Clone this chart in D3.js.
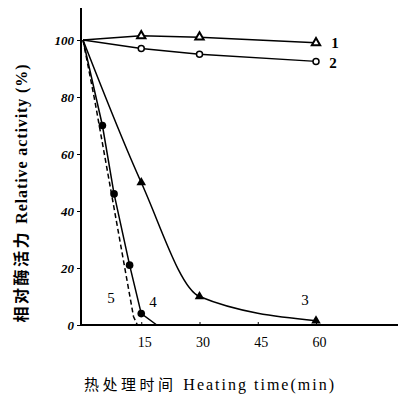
<!DOCTYPE html>
<html>
<head>
<meta charset="utf-8">
<script src="https://cdn.jsdelivr.net/npm/d3@7"></script>
<style>
  body { margin: 0; background: #fff; }
  svg { display: block; }
</style>
</head>
<body>
<svg id="chart" width="399" height="399"></svg>
<script>
// time (min) and relative activity (%) for each curve
const t1 = [0, 15, 30, 60];
const v1 = [100, 101.5, 101, 99];
const t2 = [0, 15, 30, 60];
const v2 = [100, 97, 95, 92.5];
const t3 = [0, 15, 30, 60];
const v3 = [100, 50, 10, 1.5];
const t4 = [0, 5, 8, 12, 15, 19];
const v4 = [100, 70, 46, 21, 4, 0];
const t5 = [0, 3, 13, 14];
const v5 = [100, 79, 3, 0];

const xTicks = [15, 30, 45, 60];
const yTicks = [0, 20, 40, 60, 80, 100];
const curveNames = ["1", "2", "3", "4", "5"];

const svg = d3.select("#chart");
const serif = "'Liberation Serif', 'DejaVu Serif', serif";

const x = d3.scaleLinear().domain([0, 60]).range([83, 316]);
const y = d3.scaleLinear().domain([0, 100]).range([325, 40]);

// axes
const yAxis = svg.append("g")
    .attr("transform", "translate(81,0)")
    .call(d3.axisLeft(y).tickValues(yTicks).tickSize(4).tickPadding(3).tickSizeOuter(0));
yAxis.select(".domain").remove();
yAxis.append("line")
    .attr("x1", 0).attr("x2", 0)
    .attr("y1", y(0) + 1).attr("y2", 8)
    .attr("stroke", "#000").attr("stroke-width", 2);
yAxis.selectAll("text")
    .attr("font-family", serif).attr("font-size", 13)
    .attr("font-style", "italic").attr("font-weight", "bold").attr("fill", "#000");

const xAxis = svg.append("g")
    .attr("transform", `translate(0,${y(0)})`)
    .call(d3.axisBottom(x).tickValues(xTicks).tickSize(-3).tickPadding(12).tickSizeOuter(0));
xAxis.select(".domain").remove();
xAxis.append("line")
    .attr("x1", 80).attr("x2", 398)
    .attr("y1", 0).attr("y2", 0)
    .attr("stroke", "#000").attr("stroke-width", 2);
xAxis.selectAll("text")
    .attr("dx", 3)
    .attr("font-family", serif).attr("font-size", 14).attr("fill", "#000");

// lines
const line = d3.line().x(d => x(d[0])).y(d => y(d[1]));
const zip = (a, b) => a.map((d, i) => [d, b[i]]);

const series = [
    {pts: zip(t1, v1), curve: d3.curveLinear, dash: null},
    {pts: zip(t2, v2), curve: d3.curveLinear, dash: null},
    {pts: zip(t3, v3), curve: d3.curveMonotoneX, dash: null},
    {pts: zip(t4, v4), curve: d3.curveLinear, dash: null},
    {pts: zip(t5, v5), curve: d3.curveLinear, dash: "5,3"}
];

series.forEach(s => {
    svg.append("path")
        .attr("d", line.curve(s.curve)(s.pts))
        .attr("fill", "none")
        .attr("stroke", "#000")
        .attr("stroke-width", 1.5)
        .attr("stroke-dasharray", s.dash);
});

// markers
const tri = d3.symbol().type(d3.symbolTriangle).size(30);
svg.selectAll(".m1").data(zip(t1, v1).slice(1)).enter().append("path")
    .attr("transform", d => `translate(${x(d[0])},${y(d[1])})`)
    .attr("d", tri).attr("fill", "#fff").attr("stroke", "#000").attr("stroke-width", 2);
svg.selectAll(".m2").data(zip(t2, v2).slice(1)).enter().append("circle")
    .attr("cx", d => x(d[0])).attr("cy", d => y(d[1])).attr("r", 3)
    .attr("fill", "#fff").attr("stroke", "#000").attr("stroke-width", 1.5);
svg.selectAll(".m3").data(zip(t3, v3).slice(1)).enter().append("path")
    .attr("transform", d => `translate(${x(d[0])},${y(d[1])})`)
    .attr("d", d3.symbol().type(d3.symbolTriangle).size(40)).attr("fill", "#000");
svg.selectAll(".m4").data(zip(t4, v4).slice(1, 5)).enter().append("circle")
    .attr("cx", d => x(d[0])).attr("cy", d => y(d[1])).attr("r", 3.8)
    .attr("fill", "#000");

// curve labels
const labelPos = [[335, 48], [333, 68], [305, 305], [153, 307], [111, 303]];
svg.selectAll(".lab").data(curveNames).enter().append("text")
    .attr("x", (d, i) => labelPos[i][0]).attr("y", (d, i) => labelPos[i][1])
    .attr("text-anchor", "middle")
    .attr("font-family", serif).attr("font-size", 15)
    .attr("font-weight", (d, i) => i < 2 ? "bold" : "normal")
    .text(d => d);

// axis titles
const yTitle = svg.append("text")
    .attr("transform", "translate(27,193) rotate(-90)")
    .attr("text-anchor", "middle");
yTitle.append("tspan")
    .attr("font-family", "'Noto Sans CJK SC'").attr("font-weight", "bold")
    .attr("font-size", 16).attr("letter-spacing", 2.5)
    .text("相对酶活力 ");
yTitle.append("tspan")
    .attr("font-family", serif).attr("font-size", 16).attr("letter-spacing", 0.9)
    .attr("font-weight", "bold")
    .text("Relative activity (%)");

const xTitle = svg.append("text")
    .attr("x", 210).attr("y", 390)
    .attr("text-anchor", "middle");
xTitle.append("tspan")
    .attr("font-family", "'Noto Sans CJK SC'").attr("font-size", 15).attr("letter-spacing", 3.5)
    .text("热处理时间 ");
xTitle.append("tspan")
    .attr("font-family", serif).attr("font-size", 16).attr("letter-spacing", 2)
    .text("Heating time(min)");
</script>
</body>
</html>
